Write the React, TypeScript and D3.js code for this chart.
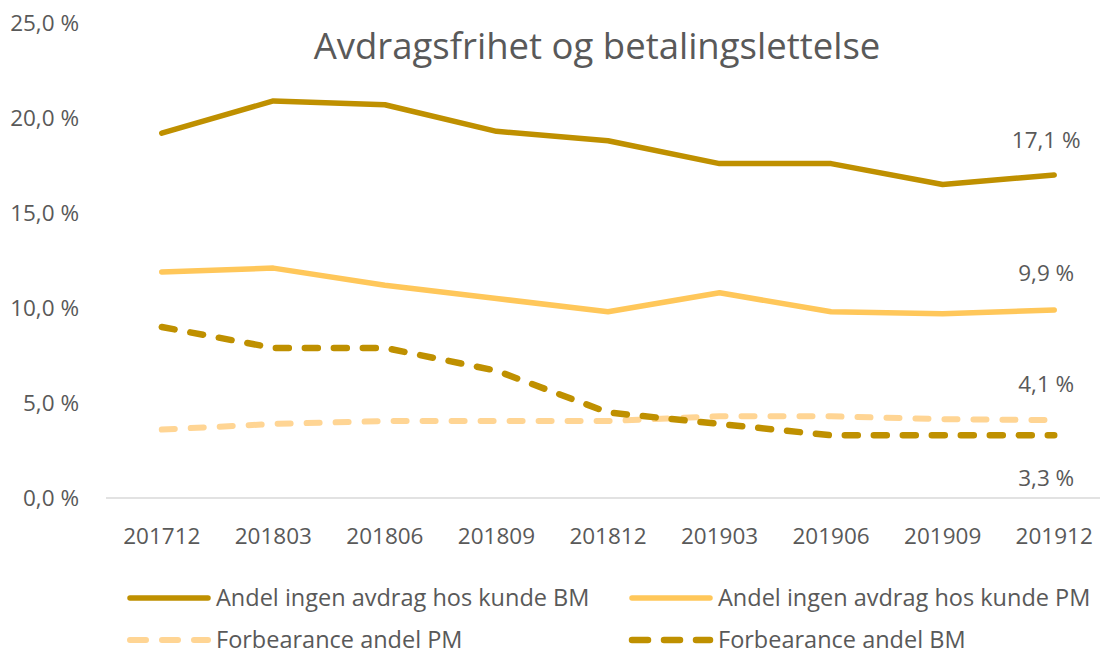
import React from "react";
import * as d3 from "d3";

const categories = ["201712", "201803", "201806", "201809", "201812", "201903", "201906", "201909", "201912"];
const bmNoInstallment = [19.2, 20.9, 20.7, 19.3, 18.8, 17.6, 17.6, 16.5, 17.0];
const pmNoInstallment = [11.9, 12.1, 11.2, 10.5, 9.8, 10.8, 9.8, 9.7, 9.9];
const forbearancePM = [3.6, 3.9, 4.05, 4.05, 4.05, 4.3, 4.3, 4.15, 4.1];
const forbearanceBM = [9.0, 7.9, 7.9, 6.7, 4.5, 3.9, 3.3, 3.3, 3.3];
const yTicks = [0, 5, 10, 15, 20, 25];
const endLabels = ["17,1 %", "9,9 %", "4,1 %", "3,3 %"];
const legendNames = [
  "Andel ingen avdrag hos kunde BM",
  "Andel ingen avdrag hos kunde PM",
  "Forbearance andel PM",
  "Forbearance andel BM",
];

const W = 1100;
const H = 657;
const FONT = "'Open Sans', 'Noto Sans', sans-serif";
const TEXT = "#595959";
const DARK = "#BF9000";
const MID = "#FFC75A";
const LIGHT = "#FFD594";
const FS = 22.5;
const LFS = 23.5;

export default function App() {
  const x = d3.scaleBand<string>().domain(categories).range([106, 1110]);
  const y = d3.scaleLinear().domain([0, 25]).range([498, 23]);
  const cx = (c: string) => (x(c) as number) + x.bandwidth() / 2;

  const line = d3
    .line<number>()
    .x((_, i) => cx(categories[i]))
    .y((v) => y(v));

  const series = [
    { data: bmNoInstallment, color: DARK, dash: null as string | null, width: 5.5 },
    { data: pmNoInstallment, color: MID, dash: null, width: 5.5 },
    { data: forbearancePM, color: LIGHT, dash: "13 16", width: 6 },
    { data: forbearanceBM, color: DARK, dash: "13 16", width: 6.5 },
  ];

  const lastX = cx(categories[categories.length - 1]);
  const labelY = [140, 273, 384, 478];

  const legend = [
    { s: series[0], x0: 130, y0: 598 },
    { s: series[1], x0: 632, y0: 598 },
    { s: series[2], x0: 130, y0: 640 },
    { s: series[3], x0: 632, y0: 640 },
  ];

  return (
    <svg width={W} height={H} style={{ display: "block", position: "absolute", left: 0, top: 0 }} fontFamily={FONT}>
      <rect width={W} height={H} fill="#fff" />
      <text x={597} y={59} textAnchor="middle" fontSize={36.5} fill={TEXT}>
        Avdragsfrihet og betalingslettelse
      </text>
      {yTicks.map((t) => (
        <text key={t} x={79} y={y(t)} dy="0.35em" textAnchor="end" fontSize={FS} fill={TEXT}>
          {d3.format(".1f")(t).replace(".", ",") + " %"}
        </text>
      ))}
      <line x1={106} x2={1110} y1={y(0)} y2={y(0)} stroke="#D9D9D9" strokeWidth={1.3} />
      {categories.map((c) => (
        <text key={c} x={cx(c)} y={536} dy="0.35em" textAnchor="middle" fontSize={FS} fill={TEXT}>
          {c}
        </text>
      ))}
      {series.map((s, i) => (
        <path
          key={i}
          d={line(s.data) as string}
          fill="none"
          stroke={s.color}
          strokeWidth={s.width}
          strokeLinecap="round"
          strokeLinejoin="round"
          strokeDasharray={s.dash ?? undefined}
        />
      ))}
      {endLabels.map((l, i) => (
        <text key={l} x={lastX - 8} y={labelY[i]} dy="0.35em" textAnchor="middle" fontSize={FS} fill={TEXT}>
          {l}
        </text>
      ))}
      {legend.map((g, i) => (
        <g key={i}>
          <line
            x1={g.x0}
            x2={g.x0 + 78}
            y1={g.y0}
            y2={g.y0}
            stroke={g.s.color}
            strokeWidth={g.s.width}
            strokeLinecap="round"
            strokeDasharray={g.s.dash ? "16 16" : undefined}
          />
          <text x={g.x0 + 86} y={g.y0} dy="0.35em" fontSize={LFS} fill={TEXT}>
            {legendNames[i]}
          </text>
        </g>
      ))}
    </svg>
  );
}
